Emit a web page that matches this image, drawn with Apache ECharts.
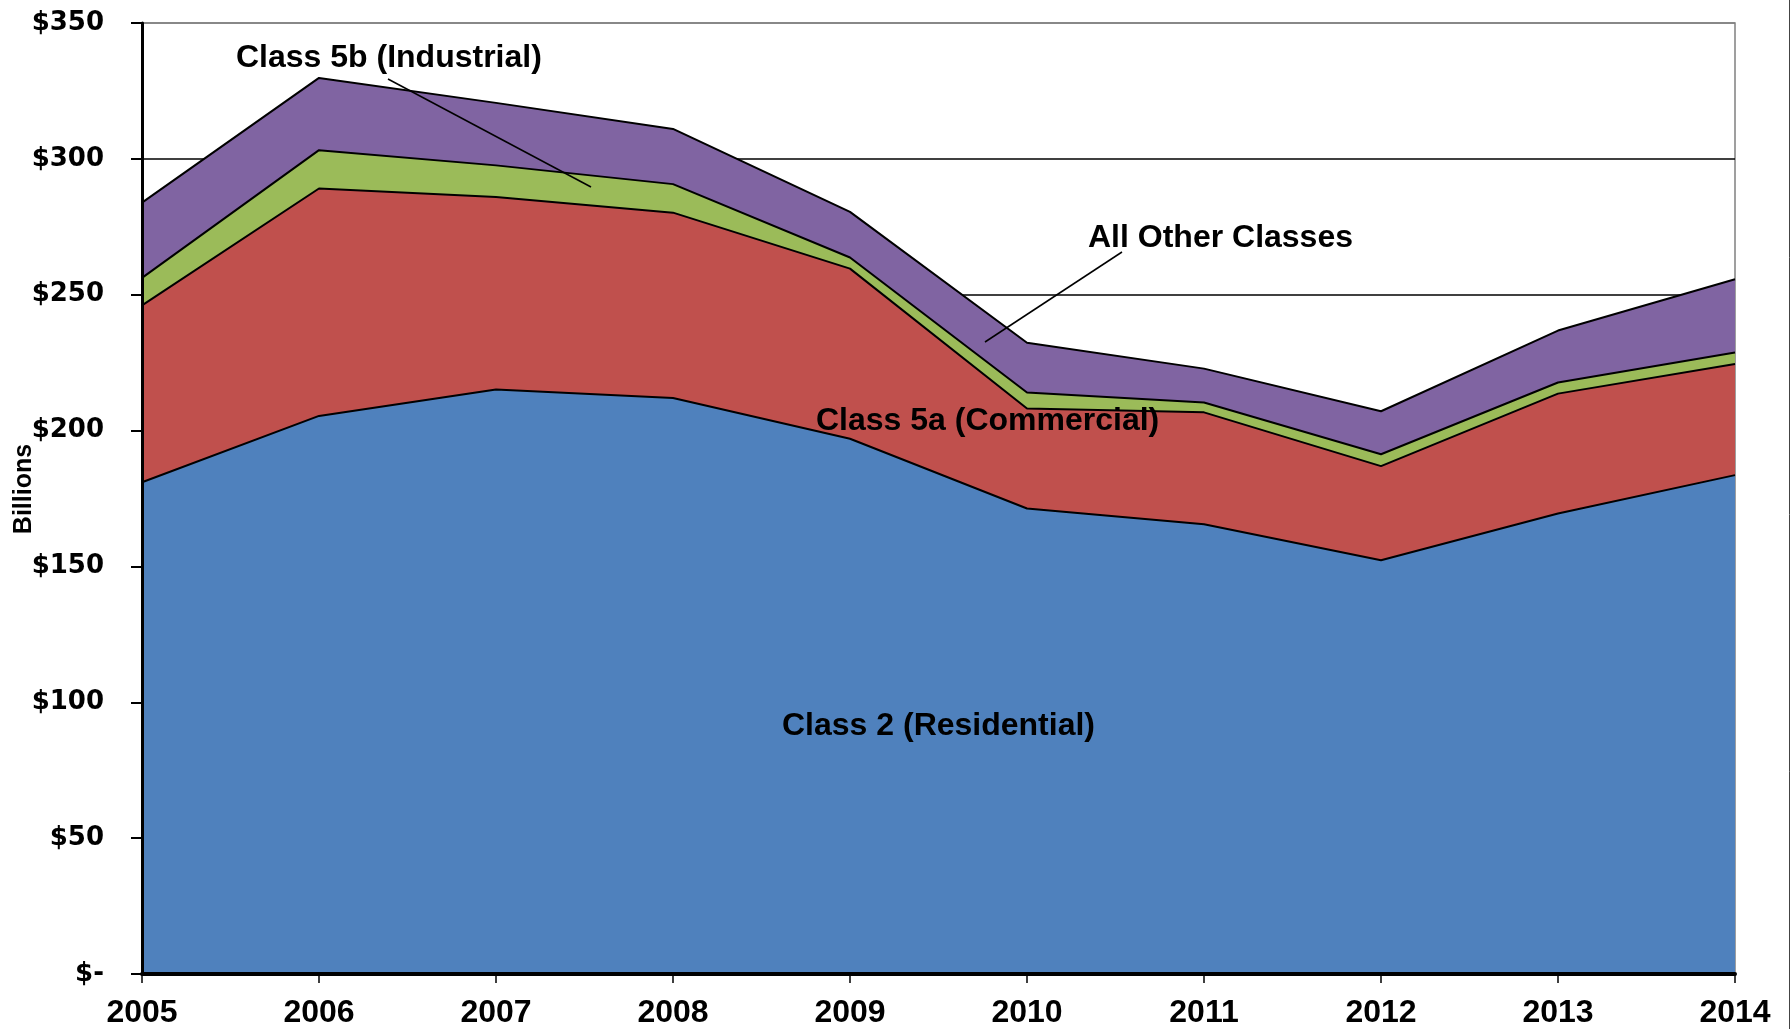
<!DOCTYPE html>
<html lang="en">
<head>
	<meta charset="UTF-8">
	<title>Document</title>
	<style>
		html, body { margin:0; padding:0; background:#fff; }
	</style>
</head>
<body>
	<div id='main' style="width:1791px;height:1029px;"></div>
</body>
<script type="text/javascript" src="https://cdn.jsdelivr.net/npm/echarts@6/dist/echarts.min.js"></script>
<script type="text/javascript">
var years = ['2005','2006','2007','2008','2009','2010','2011','2012','2013','2014'];
// billions, stacked from the bottom
var residential = [181.0, 205.4, 215.1, 212.0, 197.0, 171.3, 165.5, 152.3, 169.5, 183.6];
var commercial  = [65.1, 83.7, 70.9, 68.2, 62.6, 36.8, 41.2, 34.6, 44.1, 40.9];
var industrial  = [10.1, 14.1, 11.6, 10.5, 4.1, 5.9, 3.6, 4.4, 4.1, 4.2];
var otherClasses = [27.7, 26.6, 23.0, 20.3, 16.8, 18.3, 12.5, 15.8, 19.1, 27.0];

var seriesNames = ['Class 2 (Residential)', 'Class 5a (Commercial)', 'Class 5b (Industrial)', 'All Other Classes'];
var seriesColors = ['#4F81BD', '#C0504D', '#9BBB59', '#8064A2'];
var seriesData = [residential, commercial, industrial, otherClasses];

var labelFont = 'Liberation Sans, Arial, sans-serif';

var series = [];
for (var i = 0; i < seriesData.length; i++) {
    series.push({
        name: seriesNames[i],
        type: 'line',
        stack: 'total',
        data: seriesData[i],
        yAxisIndex: 0,
        showSymbol: false,
        symbol: 'none',
        silent: true,
        lineStyle: { color: '#000', width: 2 },
        areaStyle: { color: seriesColors[i], opacity: 1 },
        itemStyle: { color: seriesColors[i] }
    });
}

function txt(x, y, s) {
    return {
        type: 'text', left: x, top: y, z: 100,
        style: { text: s, fill: '#000', font: 'bold 32px ' + labelFont }
    };
}
function lead(x1, y1, x2, y2) {
    return {
        type: 'line', z: 100,
        shape: { x1: x1, y1: y1, x2: x2, y2: y2 },
        style: { stroke: '#000', lineWidth: 1.5 }
    };
}

var option = {
    animation: false,
    backgroundColor: '#fff',
    grid: {
        left: 142, right: 56, top: 23, bottom: 55,
        outerBoundsMode: 'none',
        containLabel: false,
        show: true, borderColor: '#808080', borderWidth: 1.5, backgroundColor: 'transparent'
    },
    xAxis: {
        type: 'category',
        data: years,
        boundaryGap: false,
        z: 10,
        axisLine: { lineStyle: { color: '#000', width: 4 } },
        axisTick: { show: true, length: 9, lineStyle: { color: '#000', width: 1.5 } },
        axisLabel: { color: '#000', fontFamily: labelFont, fontWeight: 'bold', fontSize: 32, margin: 23 },
        splitLine: { show: false }
    },
    yAxis: [
        {
            // labels and grid lines, kept under the areas
            type: 'value',
            min: 0, max: 350, interval: 50,
            z: 0,
            axisLine: { show: false },
            axisTick: { show: false },
            axisLabel: {
                color: '#000', fontFamily: 'DejaVu Sans', fontWeight: 'bold', fontSize: 26, margin: 38,
                formatter: function (v) { return v === 0 ? '$-' : '$' + v; }
            },
            splitLine: {
                show: true,
                lineStyle: { color: ['#000','#000','#000','#000','#000','#000','#000','#808080'], width: 1.5 }
            }
        },
        {
            // axis line and ticks, drawn over the areas
            type: 'value',
            position: 'left',
            offset: 0,
            min: 0, max: 350, interval: 50,
            z: 10,
            axisLine: { show: true, lineStyle: { color: '#000', width: 3 } },
            axisTick: { show: true, inside: false, length: 11, lineStyle: { color: '#000', width: 2 } },
            axisLabel: { show: false },
            splitLine: { show: false }
        }
    ],
    graphic: [
        {
            type: 'text', x: 24, y: 489, rotation: Math.PI / 2, z: 100,
            style: { text: 'Billions', fill: '#000', font: 'bold 25px ' + labelFont, align: 'center', verticalAlign: 'middle' }
        },
        txt(236, 42, 'Class 5b (Industrial)'),
        lead(388, 79, 591, 187),
        txt(1088, 222, 'All Other Classes'),
        lead(1122, 252, 985, 342),
        txt(816, 405, 'Class 5a (Commercial)'),
        txt(782, 710, 'Class 2 (Residential)'),
        { type: 'line', z: 100, shape: { x1: 1789.5, y1: 0, x2: 1789.5, y2: 1029 }, style: { stroke: '#444', lineWidth: 1 } }
    ],
    series: series
};

var myChart = echarts.init(document.getElementById('main'));
myChart.setOption(option);
</script>
</html>
